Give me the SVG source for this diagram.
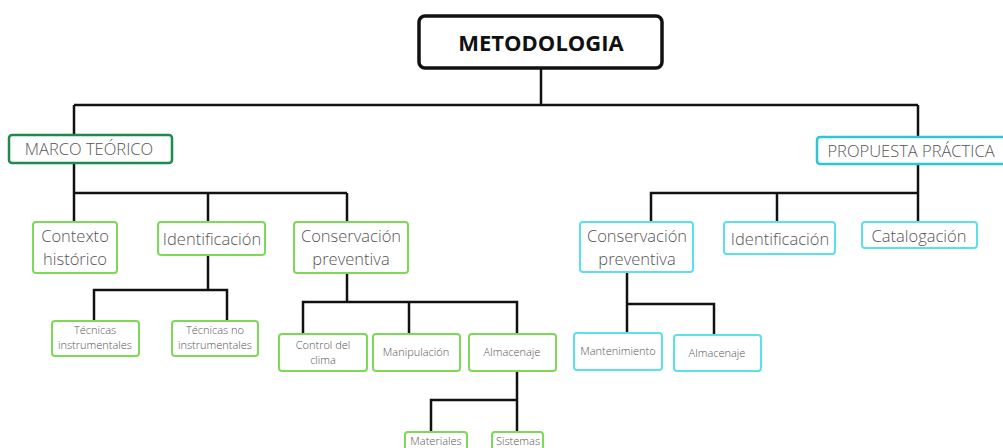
<svg xmlns="http://www.w3.org/2000/svg" width="1003" height="448" viewBox="0 0 1003 448">
<style>
.t{font-family:"Open Sans","Liberation Sans",sans-serif;fill:#555;text-anchor:middle;font-weight:300}
.g{fill:#fff;stroke:#7ed957;stroke-width:2}
.c{fill:#fff;stroke:#5ce1e6;stroke-width:2}
.l{fill:none;stroke:#111;stroke-width:2.5}
</style>
<rect width="1003" height="448" fill="#fff"/>
<g id="connectors" class="l">
<path d="M541 68V105M74 105H918M74 105V135M918 105V137"/>
<path d="M74 163V193H347M74 193V222M208 193V222M347 193V222"/>
<path d="M208 255V290M94 321V290H227V321"/>
<path d="M347 273V302M303 334V302H517V334M409 302V334"/>
<path d="M517 371V400M431 432V400H517V432"/>
<path d="M918 164V193H651V222M777 193V222M918 193V222"/>
<path d="M627 272V333M627 304H714V335"/>
</g>
<g id="metodologia"><rect x="419" y="16" width="243" height="52" rx="6" fill="#fff" stroke="#111" stroke-width="3.5"/><text class="t" x="541" y="51" font-size="22" style="fill:#111;font-weight:700">METODOLOGIA</text></g>
<g id="marco"><rect x="9" y="135" width="163" height="28" rx="3" fill="#fff" stroke="#1f8a4c" stroke-width="2.5"/><text class="t" x="89" y="155" font-size="16.5">MARCO TEÓRICO</text></g>
<g id="contexto"><rect class="g" x="33" y="222" width="84" height="51" rx="3"/><text class="t" x="75" y="242" font-size="16.5">Contexto</text><text class="t" x="75" y="265" font-size="16.5">histórico</text></g>
<g id="ident1"><rect class="g" x="158" y="222" width="107" height="33" rx="3"/><text class="t" x="212" y="245" font-size="16.5">Identificación</text></g>
<g id="conserv1"><rect class="g" x="294" y="222" width="114" height="51" rx="3"/><text class="t" x="351" y="242" font-size="16.5">Conservación</text><text class="t" x="351" y="265" font-size="16.5">preventiva</text></g>
<g id="tecinst"><rect class="g" x="52" y="321" width="87" height="35" rx="3"/><text class="t" x="95" y="334" font-size="11">Técnicas</text><text class="t" x="95" y="349" font-size="11">instrumentales</text></g>
<g id="tecnoinst"><rect class="g" x="172" y="321" width="86" height="35" rx="3"/><text class="t" x="215" y="334" font-size="11">Técnicas no</text><text class="t" x="215" y="349" font-size="11">instrumentales</text></g>
<g id="control"><rect class="g" x="279" y="334" width="88" height="37" rx="3"/><text class="t" x="323" y="349" font-size="11">Control del</text><text class="t" x="323" y="364" font-size="11">clima</text></g>
<g id="manip"><rect class="g" x="373" y="334" width="87" height="37" rx="3"/><text class="t" x="416" y="356" font-size="11">Manipulación</text></g>
<g id="almac1"><rect class="g" x="469" y="334" width="87" height="37" rx="3"/><text class="t" x="512" y="356" font-size="11">Almacenaje</text></g>
<g id="materiales"><rect class="g" x="405" y="432" width="62" height="24" rx="3"/><text class="t" x="436" y="445" font-size="11">Materiales</text></g>
<g id="sistemas"><rect class="g" x="492" y="432" width="51" height="24" rx="3"/><text class="t" x="518" y="445" font-size="11">Sistemas</text></g>
<g id="propuesta"><rect x="817" y="137" width="195" height="27" rx="3" fill="#fff" stroke="#2cc6d4" stroke-width="2.5"/><text class="t" x="911" y="157" font-size="16.5">PROPUESTA PRÁCTICA</text></g>
<g id="conserv2"><rect class="c" x="580" y="222" width="113" height="50" rx="3"/><text class="t" x="637" y="242" font-size="16.5">Conservación</text><text class="t" x="637" y="265" font-size="16.5">preventiva</text></g>
<g id="ident2"><rect class="c" x="724" y="222" width="111" height="32" rx="3"/><text class="t" x="780" y="245" font-size="16.5">Identificación</text></g>
<g id="catalog"><rect class="c" x="862" y="222" width="115" height="26" rx="3"/><text class="t" x="919" y="242" font-size="16.5">Catalogación</text></g>
<g id="manten"><rect class="c" x="574" y="333" width="88" height="37" rx="3"/><text class="t" x="618" y="355" font-size="11">Mantenimiento</text></g>
<g id="almac2"><rect class="c" x="674" y="335" width="87" height="36" rx="3"/><text class="t" x="717" y="357" font-size="11">Almacenaje</text></g>
</svg>
